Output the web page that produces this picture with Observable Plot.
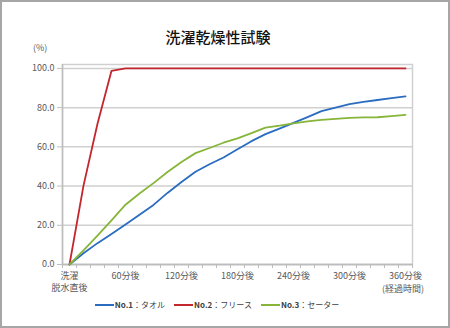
<!DOCTYPE html>
<html>
<head>
<meta charset="utf-8">
<script src="https://cdn.jsdelivr.net/npm/d3@7"></script>
<script src="https://cdn.jsdelivr.net/npm/@observablehq/plot@0.6"></script>
<style>
  html, body { margin: 0; padding: 0; background: #fff; }
  #wrap { position: relative; width: 450px; height: 328px; overflow: hidden; font-family: "Noto Sans CJK JP", "Noto Sans", sans-serif; }
  #border { position: absolute; left: 0; top: 0; width: 450px; height: 328px; box-sizing: border-box; border: 2px solid #a6a6a6; pointer-events: none; }
  #title { position: absolute; left: -7px; width: 450px; top: 26px; text-align: center; font-size: 15px; font-weight: 500; color: #111; }
  .note { position: absolute; font-size: 9px; color: #595959; white-space: nowrap; }
  #legend { position: absolute; top: 299px; left: -8px; width: 450px; display: flex; justify-content: center; gap: 9px; font-size: 8px; color: #404040; }
  .item { display: flex; align-items: center; gap: 1px; }
  .sw { display: inline-block; width: 19px; height: 2px; }
  svg { position: absolute; left: 0; top: 0; }
</style>
</head>
<body>
<div id="wrap">
  <div id="chart"></div>
  <div id="title"></div>
  <div class="note" id="ylab" style="left:33px; top:41px;"></div>
  <div class="note" id="xlab" style="left:382px; top:282px;"></div>
  <div id="legend"></div>
  <div id="border"></div>
</div>
<script>
const chartTitle = "洗濯乾燥性試験";
const yUnit = "(%)";
const xUnit = "(経過時間)";
const minutes = [0, 15, 30, 45, 60, 75, 90, 105, 120, 135, 150, 165, 180, 195, 210, 225, 240, 255, 270, 285, 300, 315, 330, 345, 360];
const xTickValues = [0, 60, 120, 180, 240, 300, 360];
const xTickLabels = ["洗濯\n脱水直後", "60分後", "120分後", "180分後", "240分後", "300分後", "360分後"];
const yTickValues = [0, 20, 40, 60, 80, 100];
const seriesNames = ["No.1：タオル", "No.2：フリース", "No.3：セーター"];
const seriesColors = ["#2a6cc0", "#c4262e", "#86b53a"];
const towel =   [0, 5.7, 10.9, 15.6, 20.4, 25.4, 30.4, 36.5, 42.1, 47.3, 51.1, 54.6, 58.8, 62.9, 66.5, 69.3, 72.2, 75.2, 78.2, 80.0, 81.8, 82.9, 83.9, 84.9, 85.7];
const fleece =  [0, 40.2, 71.8, 98.8, 100, 100, 100, 100, 100, 100, 100, 100, 100, 100, 100, 100, 100, 100, 100, 100, 100, 100, 100, 100, 100];
const sweater = [0, 7.2, 14.7, 22.5, 30.5, 36.2, 41.5, 47.2, 52.3, 56.8, 59.4, 62.1, 64.3, 67.0, 69.8, 70.8, 72.0, 73.0, 73.8, 74.3, 74.8, 75.0, 75.1, 75.7, 76.3];

const seriesValues = [towel, fleece, sweater];
const rows = [];
seriesValues.forEach((vals, si) => {
  vals.forEach((v, i) => rows.push({series: seriesNames[si], t: minutes[i], v}));
});

const step = minutes[1] - minutes[0];
const boundaries = minutes.map(m => m - step / 2).concat([minutes[minutes.length - 1] + step / 2]);
const labelMap = new Map(xTickValues.map((t, i) => [t, xTickLabels[i]]));

const chart = Plot.plot({
  width: 450,
  height: 328,
  marginLeft: 62,
  marginRight: 38,
  marginTop: 64,
  marginBottom: 64,
  style: { fontFamily: '"Noto Sans CJK JP", "Noto Sans", sans-serif', fontSize: "9px", color: "#595959", background: "transparent" },
  x: { domain: [boundaries[0], boundaries[boundaries.length - 1]] },
  y: { domain: [0, 102] },
  color: { domain: seriesNames, range: seriesColors },
  marks: [
    Plot.gridY(yTickValues, { stroke: "#d0d0d0", strokeOpacity: 1, strokeWidth: 1.5 }),
    Plot.frame({ stroke: "#d0d0d0", strokeWidth: 1.5 }),
    Plot.axisY(yTickValues, { tickFormat: d3.format(".1f"), tickSize: 5, tickPadding: 3, stroke: "#bdbdbd", fill: "#595959", label: null }),
    Plot.axisX(boundaries, { tickSize: 4, tickFormat: () => "", stroke: "#bdbdbd", label: null }),
    Plot.axisX(xTickValues, { tickSize: 0, tickPadding: 6, tickFormat: d => labelMap.get(d), fill: "#595959", label: null, lineHeight: 1.35 }),
    Plot.ruleY([0], { stroke: "#bdbdbd", strokeWidth: 1.5 }),
    Plot.ruleX([boundaries[0]], { stroke: "#bdbdbd", strokeWidth: 1.5 }),
    Plot.line(rows, { x: "t", y: "v", z: "series", stroke: "series", strokeWidth: 1.8, curve: "linear" })
  ]
});
document.getElementById("chart").appendChild(chart);
document.getElementById("title").textContent = chartTitle;
document.getElementById("ylab").textContent = yUnit;
document.getElementById("xlab").textContent = xUnit;
const legend = document.getElementById("legend");
seriesNames.forEach((name, i) => {
  const item = document.createElement("div");
  item.className = "item";
  const sw = document.createElement("span");
  sw.className = "sw";
  sw.style.background = seriesColors[i];
  const parts = name.split("：");
  const txt = document.createElement("span");
  const b = document.createElement("b");
  b.textContent = parts[0];
  txt.appendChild(b);
  txt.appendChild(document.createTextNode("：" + parts[1]));
  item.appendChild(sw);
  item.appendChild(txt);
  legend.appendChild(item);
});
</script>
</body>
</html>
